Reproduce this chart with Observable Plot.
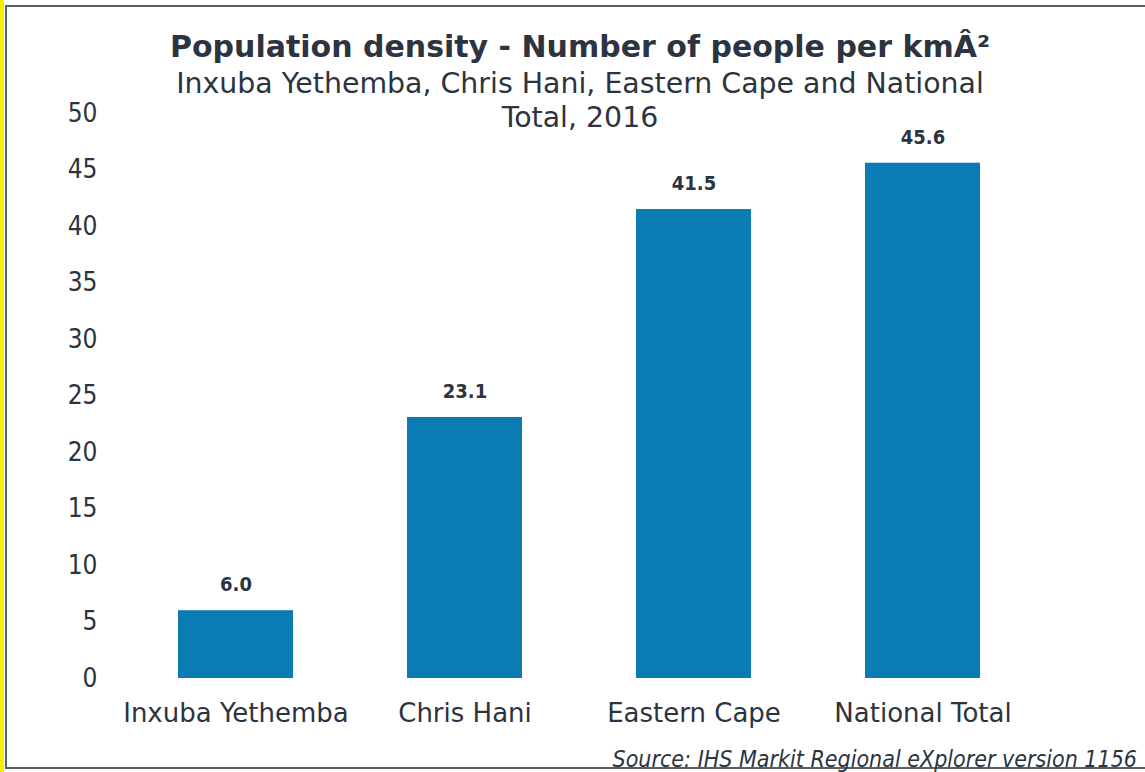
<!DOCTYPE html>
<html>
<head>
<meta charset="utf-8">
<script src="https://cdn.jsdelivr.net/npm/d3@7"></script>
<script src="https://cdn.jsdelivr.net/npm/@observablehq/plot@0.6"></script>
<style>
  html, body { margin: 0; padding: 0; background: #fff; }
  #wrap { position: relative; width: 1145px; height: 772px; overflow: hidden; background: #fff;
    font-family: "DejaVu Sans", sans-serif; color: #2b3440; }
  #strip { position: absolute; left: 0; top: 0; width: 4px; height: 772px; background: #f4f000; }
  #frame { position: absolute; left: 5px; top: 5px; width: 1160px; height: 760px;
    border: 2px solid #5a5f66; border-right: none; }
  #title { position: absolute; left: 0; width: 1160px; top: 29px; text-align: center; }
  #title .t { font-weight: bold; font-size: 30px; line-height: 36px; }
  #title .s { font-size: 28.4px; line-height: 34px; margin-top: 2px; }
  #source { position: absolute; right: 8px; top: 746px; font-style: italic; font-size: 23px;
    font-family: "DejaVu Sans Condensed", "DejaVu Sans", sans-serif; }
  #chart { position: absolute; left: 0; top: 0; }
</style>
</head>
<body>
<div id="wrap">
  <div id="strip"></div>
  <div id="frame"></div>
  <div id="chart"></div>
  <div id="title">
    <div class="t">Population density - Number of people per kmÂ²</div>
    <div class="s">Inxuba Yethemba, Chris Hani, Eastern Cape and National<br>Total, 2016</div>
  </div>
  <div id="source">Source: IHS Markit Regional eXplorer version 1156</div>
</div>
<script>
const categories = ["Inxuba Yethemba", "Chris Hani", "Eastern Cape", "National Total"];
const values = [6.0, 23.1, 41.5, 45.6];
const yTicks = [0, 5, 10, 15, 20, 25, 30, 35, 40, 45, 50];

const data = categories.map((c, i) => ({category: c, value: values[i]}));
const condensed = "'DejaVu Sans Condensed', 'DejaVu Sans', sans-serif";
const regular = "'DejaVu Sans', sans-serif";

const chart = Plot.plot({
  width: 1145,
  height: 772,
  marginTop: 113,
  marginBottom: 94,
  marginLeft: 110,
  marginRight: 97,
  style: {fontFamily: condensed, color: "#2b3440", background: "transparent"},
  x: {domain: categories, paddingInner: 0.5, paddingOuter: 0.2917, label: null},
  y: {domain: [0, 50], label: null},
  marks: [
    Plot.barY(data, {x: "category", y: "value", fill: "#0a7cb3"}),
    Plot.text(data, {x: "category", y: "value", text: d => d.value.toFixed(1), dy: -26,
      fontSize: 20, fontWeight: "bold", fill: "#2b3440", lineAnchor: "middle"}),
    Plot.axisY({ticks: yTicks, tickSize: 0, tickPadding: 13, fontSize: 26, label: null, fill: "#2b3440"}),
    Plot.axisX({tickSize: 0, tickPadding: 25, fontSize: 26, fontFamily: regular, label: null, fill: "#2b3440"})
  ]
});
document.getElementById("chart").appendChild(chart);
</script>
</body>
</html>
